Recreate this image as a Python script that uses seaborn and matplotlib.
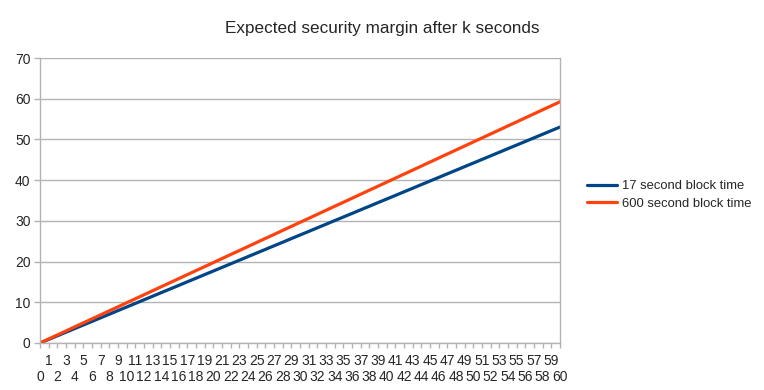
import matplotlib
matplotlib.use("Agg")
import matplotlib.pyplot as plt
import seaborn as sns
import pandas as pd

seconds = list(range(0, 61))
block17 = [0, 0.88, 1.77, 2.65, 3.54, 4.42, 5.30, 6.19, 7.07, 7.96, 8.84, 9.72, 10.61, 11.49,
           12.38, 13.26, 14.14, 15.03, 15.91, 16.80, 17.68, 18.56, 19.45, 20.33, 21.22, 22.10,
           22.98, 23.87, 24.75, 25.64, 26.52, 27.40, 28.29, 29.17, 30.06, 30.94, 31.82, 32.71,
           33.59, 34.48, 35.36, 36.24, 37.13, 38.01, 38.90, 39.78, 40.66, 41.55, 42.43, 43.32,
           44.20, 45.08, 45.97, 46.85, 47.74, 48.62, 49.50, 50.39, 51.27, 52.16, 53.04]
block600 = [0, 0.99, 1.98, 2.96, 3.95, 4.94, 5.93, 6.91, 7.90, 8.89, 9.88, 10.86, 11.85, 12.84,
            13.83, 14.81, 15.80, 16.79, 17.78, 18.76, 19.75, 20.74, 21.73, 22.71, 23.70, 24.69,
            25.68, 26.66, 27.65, 28.64, 29.63, 30.61, 31.60, 32.59, 33.58, 34.56, 35.55, 36.54,
            37.53, 38.51, 39.50, 40.49, 41.48, 42.46, 43.45, 44.44, 45.43, 46.41, 47.40, 48.39,
            49.38, 50.36, 51.35, 52.34, 53.33, 54.31, 55.30, 56.29, 57.28, 58.26, 59.25]
series_names = ["17 second block time", "600 second block time"]
colors = ["#004586", "#ff420e"]
title = "Expected security margin after k seconds"

df = pd.DataFrame({
    "k": seconds * 2,
    "margin": block17 + block600,
    "series": [series_names[0]] * len(seconds) + [series_names[1]] * len(seconds),
})

sns.set_style("white")
plt.rcParams["font.family"] = ["Liberation Sans", "DejaVu Sans"]

fig = plt.figure(figsize=(7.64, 3.90), dpi=100)
ax = fig.add_axes([40 / 764, 1 - 343 / 390, 520 / 764, 285 / 390])

sns.lineplot(data=df, x="k", y="margin", hue="series", palette=colors, linewidth=2.3,
             ax=ax, legend=True)

ax.set_xlim(0, 60)
ax.set_ylim(0, 70)
ax.set_yticks(range(0, 71, 10))
ax.yaxis.grid(True, color="#b3b3b3", linewidth=1)
ax.xaxis.grid(False)
ax.set_axisbelow(True)

even = [s for s in seconds if s % 2 == 0]
odd = [s for s in seconds if s % 2 == 1]
ax.set_xticks(even)
ax.set_xticklabels([str(s) for s in even])
ax.set_xticks(odd, minor=True)
ax.set_xticklabels([str(s) for s in odd], minor=True)
tick_len = 3.6
ax.tick_params(axis="x", which="major", length=tick_len, width=1, color="#b3b3b3", pad=15.5,
               labelsize=10, direction="out", bottom=True)
ax.tick_params(axis="x", which="minor", length=tick_len, width=1, color="#b3b3b3", pad=4.5,
               labelsize=10, direction="out", bottom=True)
ax.tick_params(axis="y", length=4.3, width=1, color="#b3b3b3", labelsize=10,
               direction="out", left=True, pad=2.5)

for side in ["left", "bottom", "right"]:
    ax.spines[side].set_visible(True)
    ax.spines[side].set_color("#b3b3b3")
    ax.spines[side].set_linewidth(1)
ax.spines["top"].set_visible(False)

ax.set_xlabel("")
ax.set_ylabel("")

handles, labels = ax.get_legend_handles_labels()
ax.get_legend().remove()
fig.legend(handles, labels, loc="center left", bbox_to_anchor=(587 / 764, 1 - 195 / 390),
           frameon=False, fontsize=9.4, handlelength=2.3, handletextpad=0.35,
           labelspacing=0.4, borderaxespad=0, borderpad=0)

fig.text(0.5, 1 - 28 / 390, title, ha="center", va="center", fontsize=12.3)

fig.savefig("out.png", dpi=100)
